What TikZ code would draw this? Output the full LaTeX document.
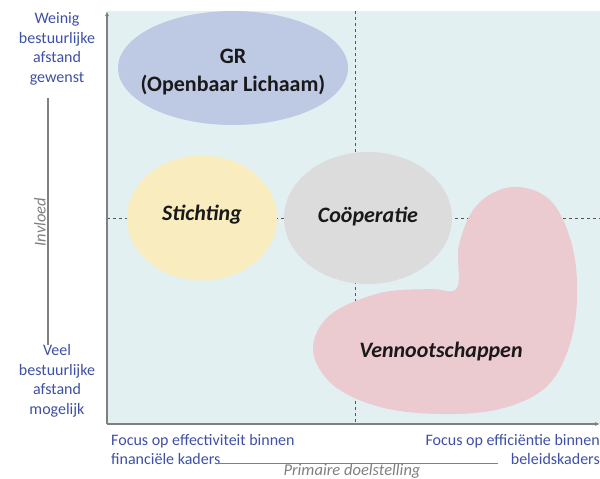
\documentclass[tikz,border=0pt]{standalone}
\usepackage{fontspec}
\setmainfont{Carlito}
\usetikzlibrary{arrows.meta,shapes.geometric}
\definecolor{panelfill}{RGB}{226,240,242}
\definecolor{grfill}{RGB}{190,201,228}
\definecolor{stfill}{RGB}{249,236,190}
\definecolor{cofill}{RGB}{220,220,220}
\definecolor{vefill}{RGB}{235,202,208}
\definecolor{labelblue}{RGB}{62,80,165}
\definecolor{axisgray}{RGB}{128,128,128}
\definecolor{dashgray}{RGB}{85,85,85}
\definecolor{inktext}{RGB}{25,25,25}
\tikzset{
  axisline/.style={draw=axisgray, line width=1.2pt},
  dashline/.style={draw=dashgray, line width=0.9pt, dash pattern=on 3pt off 3pt},
  blob/.style={ellipse, inner sep=0pt, draw=none, text=inktext, align=center},
  bloblabel/.style={text=inktext, font=\fontsize{22}{26}\selectfont\bfseries\itshape},
  bluetext/.style={text=labelblue, font=\fontsize{16}{19.5}\selectfont, inner sep=0pt},
  graytext/.style={text=axisgray, font=\fontsize{16.5}{18}\selectfont\itshape, inner sep=0pt}
}
\begin{document}
\begin{tikzpicture}[x=1pt,y=-1pt]
\useasboundingbox (0,0) rectangle (600,479);
% panel
\fill[panelfill] (107,11) rectangle (600,424);
% dashed quadrant lines
\coordinate (vt) at (355,11);
\coordinate (vb) at (355,424);
\coordinate (hl) at (107,218);
\coordinate (hr) at (600,218);
\draw[dashline] (vt) -- (vb);
\draw[dashline] (hl) -- (hr);
% blobs
\node[blob, fill=grfill, minimum width=230pt, minimum height=114pt] (gr) at (233,68) {};
\node[text=inktext, font=\fontsize{22}{28}\selectfont\bfseries, align=center] (grlabel) at (233,72) {GR\\(Openbaar Lichaam)};
\node[blob, fill=stfill, minimum width=150pt, minimum height=125pt] (st) at (202,218) {};
\node[bloblabel] (stlabel) at (202,215) {Stichting};
\node[blob, fill=cofill, minimum width=168pt, minimum height=132pt] (co) at (368,218) {};
\node[bloblabel] (colabel) at (368,217) {Coöperatie};
\fill[vefill] plot[smooth cycle, tension=0.6] coordinates {
  (457,288) (459,245) (477,205) (512,187) (550,200) (572,245) (577,300)
  (568,350) (545,388) (500,409) (440,414) (380,407) (333,385) (313,350)
  (330,315) (380,293) (430,289)};
\node[bloblabel] (velabel) at (441,352) {Vennootschappen};
% axes
\coordinate (o) at (107,424);
\coordinate (ytop) at (107,11);
\coordinate (xend) at (600,424);
\draw[axisline, -{Latex[length=5pt,width=4pt]}] (o) -- (ytop);
\draw[axisline, -{Latex[length=5pt,width=4pt]}] (o) -- (xend);
% left influence axis
\coordinate (lt) at (48,98);
\coordinate (lb) at (48,345);
\draw[axisline] (lt) -- (lb);
\node[graytext, rotate=90] (invloed) at (40,222) {Invloed};
\node[bluetext, align=center] (topleft) at (57,49) {Weinig\\bestuurlijke\\afstand\\gewenst};
\node[bluetext, align=center] (botleft) at (57,381) {Veel\\bestuurlijke\\afstand\\mogelijk};
% bottom labels
\node[bluetext, anchor=base west] (bl1) at (111,445) {Focus op effectiviteit binnen};
\node[bluetext, anchor=base west] (bl2) at (111,464) {financiële kaders};
\node[bluetext, anchor=base east] (br1) at (600,445) {Focus op efficiëntie binnen};
\node[bluetext, anchor=base east] (br2) at (600,464) {beleidskaders};
\coordinate (pl) at (217,463);
\coordinate (pr) at (498,463);
\draw[axisline, line width=1pt] (pl) -- (pr);
\node[graytext, anchor=base] (prim) at (352,475) {Primaire doelstelling};
\end{tikzpicture}
\end{document}
